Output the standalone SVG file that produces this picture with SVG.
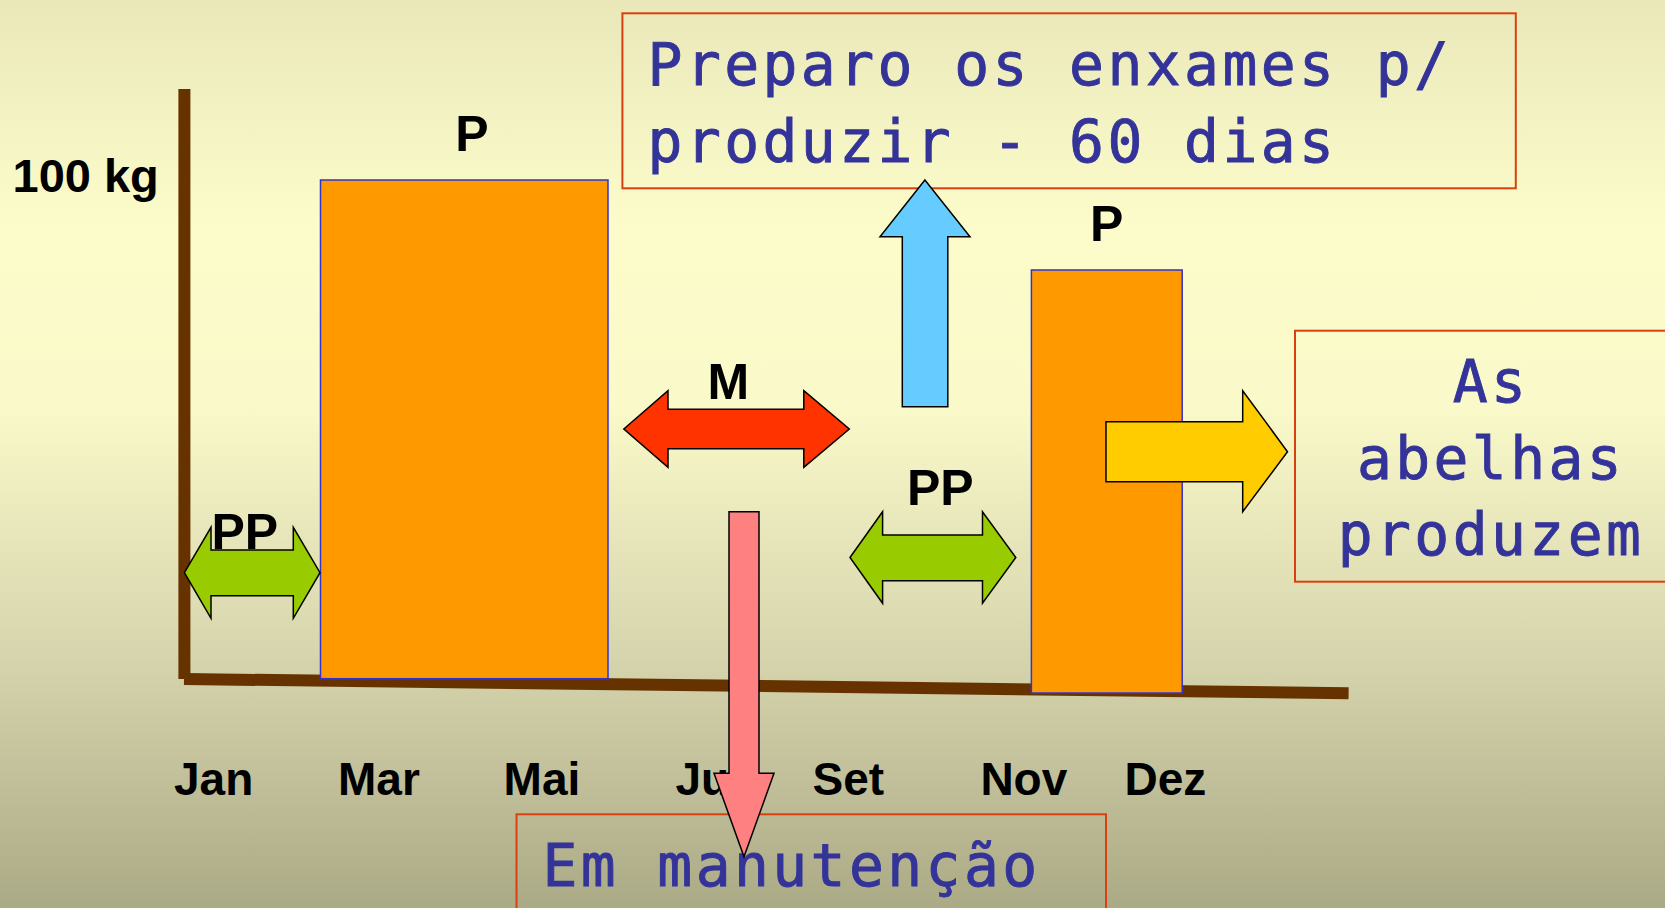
<svg xmlns="http://www.w3.org/2000/svg" width="1665" height="908" viewBox="0 0 1665 908">
<defs>
<linearGradient id="bg" x1="0" y1="0" x2="0" y2="1">
<stop offset="0" stop-color="#EAE8B9"/>
<stop offset="0.25" stop-color="#FCFCCB"/>
<stop offset="0.45" stop-color="#FAF9C9"/>
<stop offset="0.72" stop-color="#D6D5AD"/>
<stop offset="1" stop-color="#ABAA86"/>
</linearGradient>
<style>
.lbl{font-family:"Liberation Sans",Arial,sans-serif;font-weight:bold;fill:#000}
.big{font-size:50px}
.mon{font-size:46px}
.note{font-family:"DejaVu Sans Mono","Liberation Mono",monospace;font-size:58px;letter-spacing:3.4px;fill:#333399;stroke:#333399;stroke-width:0.9px}
.box{fill:none;stroke:#D9400F;stroke-width:2}
.bar{fill:#FF9900;stroke:#3333CC;stroke-width:1.5}
.arr{stroke:#000;stroke-width:1.5;stroke-linejoin:miter}
.axis{stroke:#663300;stroke-width:12;fill:none}
</style>
</defs>
<rect x="0" y="0" width="1665" height="908" fill="url(#bg)"/>

<g id="axes">
<line class="axis" x1="184.4" y1="89" x2="184.4" y2="679"/>
<line class="axis" x1="184" y1="679" x2="1348.6" y2="693.3"/>
</g>

<g id="y-label"><text class="lbl" x="12.5" y="192" font-size="47">100 kg</text></g>

<g id="months">
<text class="lbl mon" x="174" y="795">Jan</text>
<text class="lbl mon" x="338" y="795">Mar</text>
<text class="lbl mon" x="503.6" y="795">Mai</text>
<text class="lbl mon" x="675.4" y="795">Jul</text>
<text class="lbl mon" x="812.6" y="795">Set</text>
<text class="lbl mon" x="980.4" y="795">Nov</text>
<text class="lbl mon" x="1124.5" y="795">Dez</text>
</g>

<g id="bar1">
<rect class="bar" x="320.5" y="180" width="287.5" height="498.7"/>
<text class="lbl big" x="472" y="150.7" text-anchor="middle">P</text>
</g>

<g id="bar2">
<rect class="bar" x="1031.4" y="270" width="150.8" height="423" stroke="#3333FF"/>
<text class="lbl big" x="1106.7" y="240.7" text-anchor="middle">P</text>
</g>

<g id="box-preparo">
<rect class="box" x="622.4" y="13.3" width="893.4" height="175"/>
<text class="note" x="647.6" y="85">Preparo os enxames p/</text>
<text class="note" x="647.6" y="161.7">produzir - 60 dias</text>
</g>

<g id="box-abelhas">
<rect class="box" x="1295" y="330.7" width="400" height="251"/>
<text class="note" x="1491" y="401.7" text-anchor="middle">As</text>
<text class="note" x="1491" y="478.5" text-anchor="middle">abelhas</text>
<text class="note" x="1491" y="555" text-anchor="middle">produzem</text>
</g>

<g id="box-manutencao">
<rect class="box" x="516.5" y="814.3" width="589.5" height="120"/>
<text class="note" x="542.4" y="886">Em manutenção</text>
</g>

<g id="connectors">
<polygon class="arr" fill="#99CC00" points="184.4,572.7 211,527.3 211,550 293.3,550 293.3,527.3 320,572.7 293.3,618.3 293.3,595.7 211,595.7 211,618.3"/>
<polygon class="arr" fill="#99CC00" points="850,557.5 882.6,511.7 882.6,535 982.5,535 982.5,511.7 1015.8,557.5 982.5,603.3 982.5,580.7 882.6,580.7 882.6,603.3"/>
<polygon class="arr" fill="#FF3300" points="623.8,429 668,390.7 668,409.3 803.8,409.3 803.8,390.7 849.3,429 803.8,467.3 803.8,448.7 668,448.7 668,467.3"/>
<polygon class="arr" fill="#66CCFF" points="924.9,180 970,236.7 947.8,236.7 947.8,406.7 902.3,406.7 902.3,236.7 880,236.7"/>
<polygon class="arr" fill="#FF8080" points="729,511.7 759,511.7 759,773.3 774,773.3 744,856.7 714,773.3 729,773.3"/>
<polygon class="arr" fill="#FFCC00" points="1106,421.7 1242.7,421.7 1242.7,390.7 1287.5,451.7 1242.7,511.7 1242.7,481.7 1106,481.7"/>
</g>

<g id="arrow-labels">
<text class="lbl big" x="244.8" y="549.3" text-anchor="middle">PP</text>
<text class="lbl big" x="940.3" y="505" text-anchor="middle">PP</text>
<text class="lbl big" x="728.3" y="399.3" text-anchor="middle">M</text>
</g>
</svg>
